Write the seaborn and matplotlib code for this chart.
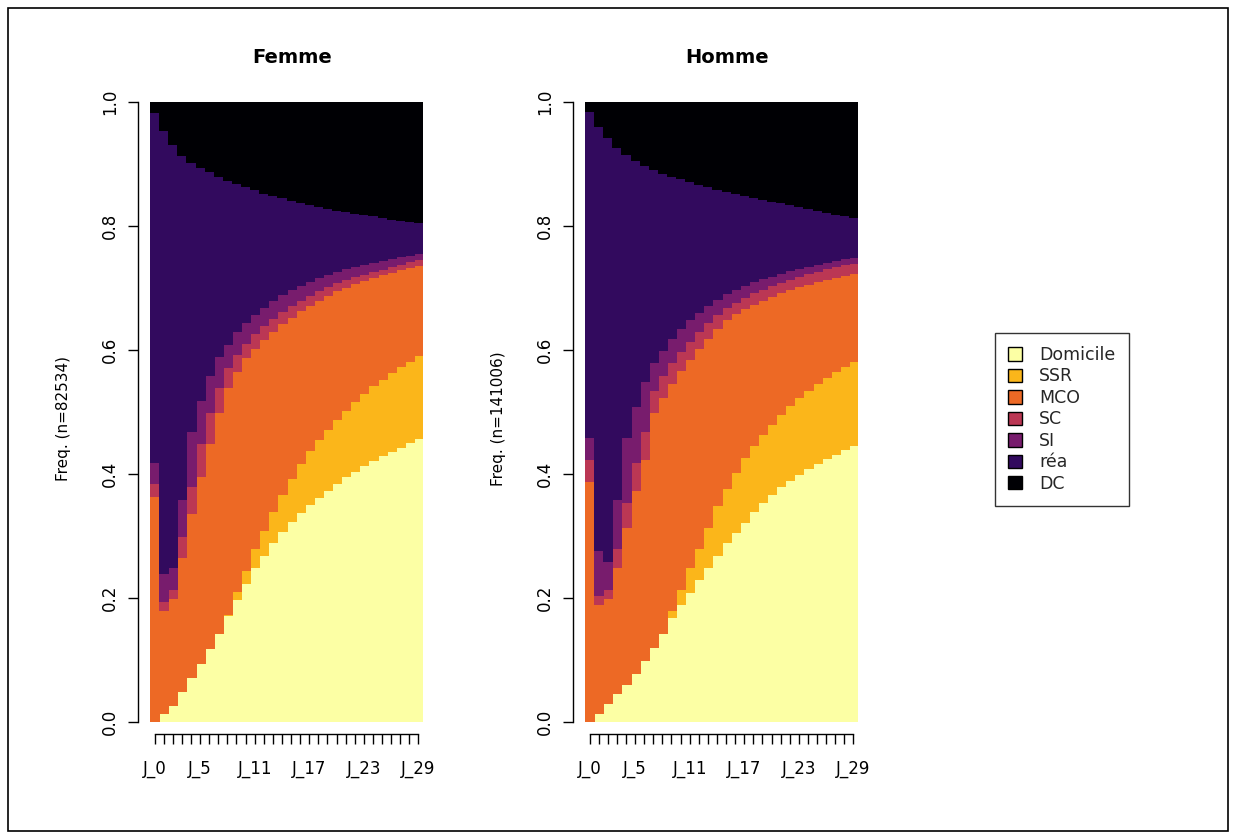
import numpy as np
import matplotlib
matplotlib.use("Agg")
import matplotlib.pyplot as plt
from matplotlib.patches import Patch, Rectangle
import seaborn as sns

# Days of follow-up and the labels printed under the axis
DAYS = ["J_0", "J_1", "J_2", "J_3", "J_4", "J_5", "J_6", "J_7", "J_8", "J_9",
        "J_10", "J_11", "J_12", "J_13", "J_14", "J_15", "J_16", "J_17", "J_18", "J_19",
        "J_20", "J_21", "J_22", "J_23", "J_24", "J_25", "J_26", "J_27", "J_28", "J_29"]
SHOWN_DAYS = ["J_0", "J_5", "J_11", "J_17", "J_23", "J_29"]

# States, stacked from bottom to top
STATES = ["Domicile", "SSR", "MCO", "SC", "SI", "réa", "DC"]
COLORS = ["#FCFFA4", "#FBB61A", "#ED6925", "#BB3754", "#781C6D", "#320A5E", "#000004"]

# Cumulative frequencies (upper edge of each state) -- Femme, n=82534
femme_dom = [0.0, 0.014, 0.027, 0.05, 0.072, 0.095, 0.119, 0.143, 0.172, 0.198,
             0.224, 0.25, 0.27, 0.29, 0.308, 0.324, 0.339, 0.352, 0.363, 0.375,
             0.386, 0.396, 0.405, 0.414, 0.422, 0.43, 0.437, 0.444, 0.451, 0.458]
femme_ssr = [0.0, 0.014, 0.027, 0.05, 0.072, 0.095, 0.119, 0.143, 0.175, 0.212,
             0.245, 0.28, 0.31, 0.34, 0.368, 0.393, 0.417, 0.438, 0.457, 0.473,
             0.489, 0.504, 0.518, 0.531, 0.543, 0.554, 0.564, 0.574, 0.583, 0.592]
femme_mco = [0.365, 0.18, 0.2, 0.266, 0.337, 0.396, 0.45, 0.5, 0.54, 0.566,
             0.588, 0.604, 0.618, 0.631, 0.643, 0.654, 0.664, 0.673, 0.681, 0.689,
             0.696, 0.702, 0.708, 0.713, 0.718, 0.722, 0.726, 0.73, 0.734, 0.737]
femme_sc = [0.385, 0.195, 0.215, 0.3, 0.38, 0.45, 0.5, 0.54, 0.572, 0.594,
            0.612, 0.627, 0.64, 0.652, 0.663, 0.672, 0.681, 0.689, 0.696, 0.703,
            0.709, 0.714, 0.719, 0.723, 0.727, 0.731, 0.735, 0.739, 0.743, 0.747]
femme_si = [0.42, 0.24, 0.25, 0.36, 0.47, 0.52, 0.56, 0.59, 0.61, 0.63,
            0.645, 0.658, 0.67, 0.68, 0.69, 0.698, 0.705, 0.711, 0.717, 0.722,
            0.727, 0.732, 0.736, 0.739, 0.742, 0.745, 0.748, 0.751, 0.754, 0.756]
femme_rea = [0.984, 0.955, 0.932, 0.915, 0.903, 0.895, 0.888, 0.881, 0.875, 0.869,
             0.864, 0.859, 0.854, 0.85, 0.846, 0.842, 0.838, 0.835, 0.832, 0.829,
             0.826, 0.824, 0.821, 0.819, 0.817, 0.814, 0.812, 0.81, 0.808, 0.806]

# Cumulative frequencies (upper edge of each state) -- Homme, n=141006
homme_dom = [0.0, 0.014, 0.03, 0.046, 0.062, 0.079, 0.1, 0.121, 0.143, 0.17,
             0.19, 0.21, 0.23, 0.25, 0.27, 0.29, 0.307, 0.323, 0.34, 0.355,
             0.368, 0.38, 0.39, 0.4, 0.41, 0.418, 0.426, 0.433, 0.44, 0.447]
homme_ssr = [0.0, 0.014, 0.03, 0.046, 0.062, 0.079, 0.1, 0.121, 0.143, 0.18,
             0.215, 0.25, 0.28, 0.315, 0.35, 0.378, 0.403, 0.427, 0.447, 0.464,
             0.48, 0.496, 0.511, 0.524, 0.536, 0.547, 0.557, 0.566, 0.574, 0.582]
homme_mco = [0.388, 0.19, 0.2, 0.25, 0.315, 0.375, 0.425, 0.5, 0.525, 0.547,
             0.567, 0.585, 0.603, 0.62, 0.636, 0.65, 0.66, 0.668, 0.675, 0.681,
             0.687, 0.693, 0.698, 0.703, 0.707, 0.711, 0.715, 0.718, 0.721, 0.724]
homme_sc = [0.425, 0.205, 0.215, 0.28, 0.355, 0.42, 0.47, 0.535, 0.56, 0.58,
            0.598, 0.614, 0.63, 0.645, 0.658, 0.669, 0.678, 0.686, 0.693, 0.699,
            0.705, 0.71, 0.715, 0.72, 0.724, 0.728, 0.732, 0.735, 0.738, 0.74]
homme_si = [0.46, 0.277, 0.26, 0.36, 0.46, 0.51, 0.55, 0.58, 0.6, 0.62,
            0.636, 0.65, 0.662, 0.673, 0.683, 0.692, 0.699, 0.705, 0.711, 0.716,
            0.72, 0.725, 0.729, 0.733, 0.736, 0.739, 0.742, 0.745, 0.748, 0.75]
homme_rea = [0.986, 0.962, 0.943, 0.928, 0.916, 0.907, 0.899, 0.892, 0.886, 0.881,
             0.877, 0.872, 0.868, 0.864, 0.86, 0.857, 0.853, 0.85, 0.847, 0.844,
             0.841, 0.838, 0.835, 0.832, 0.829, 0.826, 0.823, 0.82, 0.818, 0.815]
TOTAL = 1.0

sns.set_theme(style="white")
plt.rcParams["font.family"] = ["DejaVu Sans"]

W, H = 1236, 839
fig = plt.figure(figsize=(W / 100, H / 100), dpi=100)
fig.patch.set_facecolor("white")


def px_rect(x0, y_top, w, h):
    return [x0 / W, (H - y_top - h) / H, w / W, h / H]


def draw_panel(ax, tops, title, n):
    x = np.arange(len(DAYS))
    bottom = np.zeros(len(DAYS))
    for color, top in zip(COLORS, tops):
        top = np.broadcast_to(np.asarray(top, dtype=float), bottom.shape)
        ax.bar(x, top - bottom, bottom=bottom, width=1.0, color=color,
               edgecolor=color, linewidth=0.6, align="center", antialiased=False)
        bottom = top.copy()

    ax.set_xlim(-0.5, len(DAYS) - 0.5)
    ax.set_ylim(0, 1)
    ax.set_facecolor("white")
    for side in ("top", "right"):
        ax.spines[side].set_visible(False)
    for side in ("left", "bottom"):
        ax.spines[side].set_visible(True)
        ax.spines[side].set_color("black")
        ax.spines[side].set_linewidth(1.0)
    ax.spines["left"].set_position(("outward", 8.6))
    ax.spines["left"].set_bounds(0, 1)
    ax.spines["bottom"].set_position(("outward", 8.6))
    ax.spines["bottom"].set_bounds(0, len(DAYS) - 1)

    ax.set_xticks(x)
    ax.set_xticklabels([d if d in SHOWN_DAYS else "" for d in DAYS])
    yt = [0.0, 0.2, 0.4, 0.6, 0.8, 1.0]
    ax.set_yticks(yt)
    ax.set_yticklabels([f"{v:.1f}" for v in yt], rotation=90, va="center")
    ax.tick_params(axis="both", which="both", direction="out", length=7.5,
                   width=1.0, color="black", labelsize=12, labelcolor="black",
                   left=True, bottom=True)
    ax.tick_params(axis="x", pad=11)
    ax.tick_params(axis="y", pad=6)
    ax.grid(False)

    ax.set_ylabel(f"Freq. (n={n})", fontsize=11, color="black")
    ax.yaxis.set_label_coords(-0.29, 0.49)
    ax.text(0.52, 1.071, title, transform=ax.transAxes, ha="center", va="center",
            fontsize=14, fontweight="bold", color="black")


ax_f = fig.add_axes(px_rect(150, 102, 273, 620))
draw_panel(ax_f, [femme_dom, femme_ssr, femme_mco, femme_sc, femme_si, femme_rea, TOTAL],
           "Femme", 82534)

ax_h = fig.add_axes(px_rect(585, 102, 273, 620))
draw_panel(ax_h, [homme_dom, homme_ssr, homme_mco, homme_sc, homme_si, homme_rea, TOTAL],
           "Homme", 141006)

handles = [Patch(facecolor=c, edgecolor="black", linewidth=1.0, label=s)
           for s, c in zip(STATES, COLORS)]
leg = fig.legend(handles=handles, loc="upper left",
                 bbox_to_anchor=(995 / W, 1 - 333 / H),
                 bbox_transform=fig.transFigure,
                 fontsize=12.5, frameon=True, fancybox=False, shadow=False,
                 handlelength=0.8, handleheight=0.8, handletextpad=1.0,
                 labelspacing=0.2, borderpad=0.75, borderaxespad=0.0)
leg.get_frame().set_edgecolor("black")
leg.get_frame().set_linewidth(1.0)
leg.get_frame().set_facecolor("white")

fig.patches.append(Rectangle((8 / W, 8 / H), (1228 - 8) / W, (831 - 8) / H,
                             transform=fig.transFigure, fill=False,
                             edgecolor="black", linewidth=1.2))

fig.savefig("out.png", dpi=100)
